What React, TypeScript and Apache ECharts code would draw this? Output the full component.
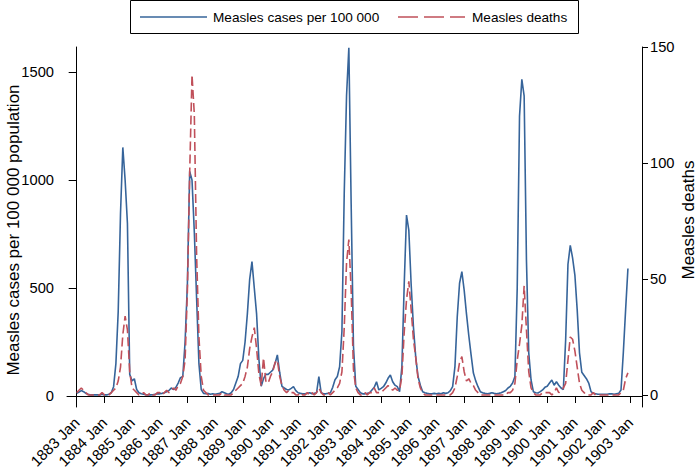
import React, { useEffect, useRef } from "react";
import * as echarts from "echarts";

// Monthly values, 1883 Jan .. 1902 Dec (one row per year)
const cases: number[] = [
  12, 18, 25, 20, 12, 8, 5, 5, 5, 5, 5, 8, // 1883
  5, 5, 8, 15, 43, 150, 390, 845, 1151, 1000, 800, 100, // 1884
  70, 80, 30, 15, 10, 8, 6, 5, 5, 6, 8, 10, // 1885
  10, 12, 15, 20, 25, 37, 30, 40, 60, 85, 90, 250, // 1886
  520, 1040, 1000, 760, 450, 150, 30, 12, 10, 12, 8, 10, // 1887
  8, 10, 12, 20, 15, 10, 8, 15, 30, 60, 90, 150, // 1888
  165, 250, 380, 540, 622, 500, 380, 170, 45, 80, 100, 100, // 1889
  110, 120, 150, 190, 110, 45, 37, 30, 28, 35, 43, 25, // 1890
  15, 12, 10, 10, 12, 15, 10, 12, 15, 90, 15, 10, // 1891
  10, 12, 15, 40, 75, 90, 136, 300, 940, 1390, 1612, 890, // 1892
  230, 45, 30, 15, 10, 10, 12, 15, 28, 40, 66, 28, // 1893
  35, 43, 60, 82, 97, 66, 50, 43, 20, 136, 514, 838, // 1894
  768, 520, 320, 180, 90, 50, 20, 15, 12, 10, 10, 12, // 1895
  10, 12, 10, 15, 12, 15, 25, 43, 136, 367, 522, 576, // 1896
  490, 380, 280, 190, 106, 70, 43, 20, 15, 12, 10, 12, // 1897
  15, 12, 10, 12, 15, 20, 25, 37, 45, 60, 90, 500, // 1898
  1296, 1466, 1390, 630, 200, 74, 20, 15, 14, 20, 28, 40, // 1899
  45, 60, 74, 50, 66, 50, 37, 30, 260, 610, 697, 640, // 1900
  560, 400, 200, 110, 95, 80, 60, 20, 12, 10, 8, 8, // 1901
  8, 8, 8, 10, 10, 8, 10, 12, 28, 200, 400, 590, // 1902
];

const deaths: number[] = [
  1, 2, 3, 2, 1, 0, 0, 0, 0, 0, 0, 1, // 1883
  0, 0, 0, 1, 2, 3, 6, 12, 26, 34, 28, 10, // 1884
  3, 2, 1, 0, 0, 1, 0, 0, 1, 0, 0, 1, // 1885
  1, 0, 1, 2, 1, 2, 3, 2, 4, 5, 8, 15, // 1886
  45, 96, 138, 121, 60, 25, 8, 2, 1, 0, 0, 0, // 1887
  0, 0, 0, 1, 0, 0, 0, 0, 1, 2, 3, 4, // 1888
  5, 8, 12, 20, 25, 29, 20, 9, 4, 16, 6, 5, // 1889
  8, 10, 14, 15, 8, 4, 2, 1, 2, 1, 1, 0, // 1890
  0, 1, 0, 0, 1, 0, 1, 0, 1, 3, 1, 0, // 1891
  0, 1, 0, 1, 2, 3, 5, 10, 29, 57, 67, 45, // 1892
  11, 3, 1, 0, 0, 1, 0, 1, 1, 3, 1, 1, // 1893
  1, 2, 3, 4, 3, 2, 3, 2, 2, 8, 27, 41, // 1894
  49, 37, 24, 16, 7, 3, 1, 0, 0, 0, 0, 0, // 1895
  0, 0, 0, 0, 0, 0, 0, 1, 3, 8, 14, 16.5, // 1896
  10, 6, 7, 5, 4, 2, 1, 0, 0, 0, 0, 0, // 1897
  0, 0, 0, 0, 0, 0, 0, 1, 1, 2, 5, 15, // 1898
  22, 30, 47, 28, 10, 3, 1, 0, 0, 0, 1, 1, // 1899
  1, 1, 0, 1, 3, 1, 2, 3, 5, 15, 25, 24, // 1900
  19, 12, 5, 2, 1, 0, 0, 0, 1, 0, 0, 0, // 1901
  0, 0, 0, 0, 0, 0, 0, 0, 1, 2, 7, 9.5, // 1902
];

const startYear = 1883;
const tickYears = [
  1883, 1884, 1885, 1886, 1887, 1888, 1889, 1890, 1891, 1892, 1893,
  1894, 1895, 1896, 1897, 1898, 1899, 1900, 1901, 1902, 1903,
];
const leftTicks = [0, 500, 1000, 1500];
const rightTicks = [0, 50, 100, 150];
const seriesNames = ["Measles cases per 100 000", "Measles deaths"];
const leftTitle = "Measles cases per 100 000 population";
const rightTitle = "Measles deaths";

const FONT = "'Liberation Sans', Arial, Helvetica, sans-serif";
const BLUE = "#36649a";
const RED = "#c0505a";

export default function App() {
  const ref = useRef<HTMLDivElement>(null);
  useEffect(() => {
    if (!ref.current) return;
    const chart = echarts.init(ref.current, undefined, { renderer: "svg" });
    const xTicks = tickYears.map((y) => (y - startYear) * 12);
    const axisCommon = {
      axisLine: { show: true, lineStyle: { color: "#000", width: 1 } },
      splitLine: { show: false },
    };
    const legendText = { fill: "#000", fontSize: 13.6, fontFamily: FONT, verticalAlign: "middle" };
    const titleText = { fill: "#000", fontSize: 17, fontFamily: FONT, align: "center", verticalAlign: "middle" };
    chart.setOption({
      animation: false,
      backgroundColor: "#fff",
      textStyle: { fontFamily: FONT },
      grid: {
        left: 67,
        right: 58,
        top: 47,
        bottom: 62,
        containLabel: false,
        outerBoundsMode: "none",
      },
      graphic: [
        {
          type: "rect",
          shape: { x: 130.5, y: 0.5, width: 448, height: 33 },
          style: { fill: "none", stroke: "#000", lineWidth: 1 },
          silent: true,
        },
        {
          type: "line",
          shape: { x1: 140, y1: 17, x2: 207, y2: 17 },
          style: { stroke: BLUE, lineWidth: 1.6 },
          silent: true,
        },
        {
          type: "text",
          x: 213,
          y: 17,
          style: { ...legendText, text: seriesNames[0] },
          silent: true,
        },
        {
          type: "line",
          shape: { x1: 398, y1: 17, x2: 465, y2: 17 },
          style: { stroke: RED, lineWidth: 1.6, lineDash: [20, 6] },
          silent: true,
        },
        {
          type: "text",
          x: 472,
          y: 17,
          style: { ...legendText, text: seriesNames[1] },
          silent: true,
        },
        {
          type: "text",
          x: 13,
          y: 230,
          rotation: Math.PI / 2,
          style: { ...titleText, text: leftTitle },
          silent: true,
        },
        {
          type: "text",
          x: 688,
          y: 220,
          rotation: Math.PI / 2,
          style: { ...titleText, text: rightTitle },
          silent: true,
        },
      ],
      xAxis: {
        type: "value",
        min: -4.2,
        max: 245.1,
        ...axisCommon,
        axisTick: {
          show: true,
          length: 7,
          lineStyle: { color: "#000" },
          customValues: xTicks,
        },
        axisLabel: {
          rotate: 45,
          fontSize: 15,
          color: "#000",
          margin: 13,
          fontFamily: FONT,
          customValues: xTicks,
          formatter: (v: number) => `${startYear + Math.round(v / 12)} Jan`,
        },
      },
      yAxis: [
        {
          type: "value",
          min: -51,
          max: 1616,
          position: "left",
          ...axisCommon,
          axisTick: {
            show: true,
            length: 8,
            lineStyle: { color: "#000" },
            customValues: leftTicks,
          },
          axisLabel: {
            fontSize: 14.7,
            color: "#000",
            margin: 13,
            fontFamily: FONT,
            customValues: leftTicks,
            formatter: (v: number) => String(v),
          },
        },
        {
          type: "value",
          min: -5.2,
          max: 150,
          position: "right",
          ...axisCommon,
          axisTick: {
            show: true,
            length: 6,
            lineStyle: { color: "#000" },
            customValues: rightTicks,
          },
          axisLabel: {
            fontSize: 14.7,
            color: "#000",
            margin: 8,
            fontFamily: FONT,
            customValues: rightTicks,
            formatter: (v: number) => String(v),
          },
        },
      ],
      series: [
        {
          name: seriesNames[0],
          type: "line",
          yAxisIndex: 0,
          symbol: "none",
          showSymbol: false,
          color: BLUE,
          lineStyle: { color: BLUE, width: 1.6 },
          data: cases.map((v, i) => [i, v]),
        },
        {
          name: seriesNames[1],
          type: "line",
          yAxisIndex: 1,
          symbol: "none",
          showSymbol: false,
          color: RED,
          lineStyle: { color: RED, width: 1.6, type: [9, 4] },
          data: deaths.map((v, i) => [i, v]),
        },
      ],
    });
    return () => chart.dispose();
  }, []);
  return (
    <div
      ref={ref}
      style={{ position: "fixed", left: 0, top: 0, width: 700, height: 469, background: "#fff" }}
    />
  );
}
